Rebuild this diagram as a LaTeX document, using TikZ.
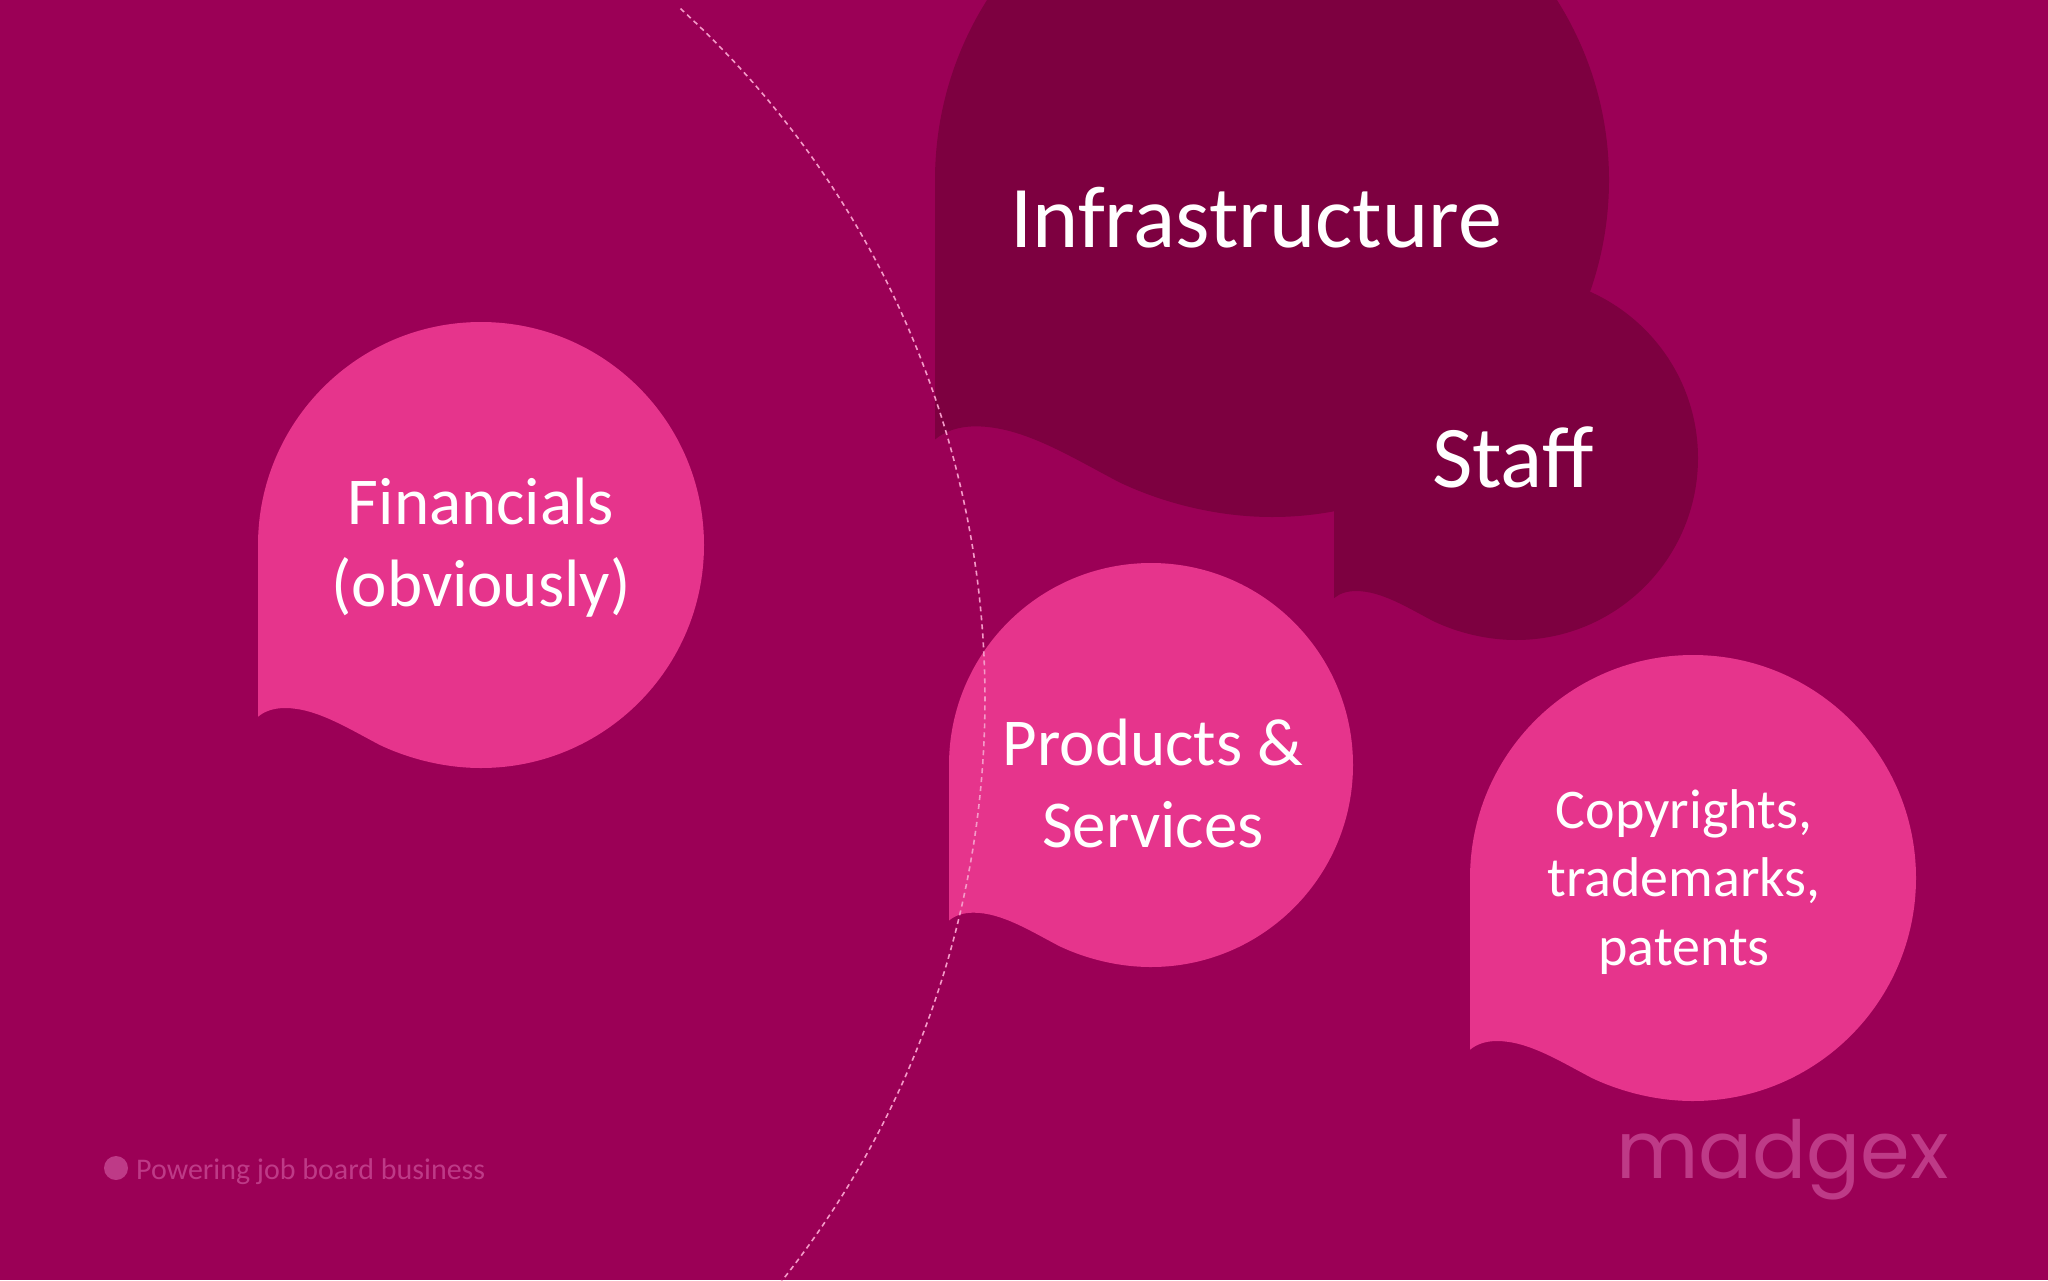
\documentclass[tikz,border=0pt]{standalone}
\usepackage{fontspec}
\setmainfont{Carlito}
\newfontfamily\logofont{Poppins}
\definecolor{bgplum}{HTML}{9B0056}
\definecolor{hotpink}{HTML}{E6348C}
\definecolor{darkplum}{HTML}{7D0040}
\definecolor{dashpink}{HTML}{F49AC8}
\definecolor{fadedpink}{HTML}{BE3A87}
\newcommand{\speechbubble}[4]{%
  \fill[#4,shift={(#1,#2)},x=#3pt,y=-#3pt]
    (-1,.77) -- (-1,0)
    .. controls (-1,-.5523) and (-.5523,-1) .. (0,-1)
    .. controls (.5523,-1) and (1,-.5523) .. (1,0)
    .. controls (1,.5523) and (.5523,1) .. (0,1)
    .. controls (-.16,1) and (-.32,.96) .. (-.453,.897)
    .. controls (-.6,.82) and (-.74,.731) .. (-.879,.731)
    .. controls (-.93,.731) and (-.97,.745) .. (-1,.77) -- cycle;}
\tikzset{
  bubbletext/.style={text=white,inner sep=0pt,align=center},
  bigtext/.style={text=white,inner sep=0pt,anchor=base,font=\fontsize{88}{88}\selectfont},
  midfont/.style={font=\fontsize{67}{82}\selectfont},
  smallfont/.style={font=\fontsize{56}{68.6}\selectfont},
  footer/.style={text=fadedpink,inner sep=0pt,anchor=base west}
}
\begin{document}
\begin{tikzpicture}[x=1pt,y=-1pt]
\useasboundingbox (0,0) rectangle (2048,1280);
\clip (0,0) rectangle (2048,1280);
\fill[bgplum] (0,0) rectangle (2048,1280);
\speechbubble{1516}{458}{182}{darkplum}
\speechbubble{1272}{180}{337}{darkplum}
\speechbubble{481}{545}{223}{hotpink}
\speechbubble{1151}{765}{202}{hotpink}
\speechbubble{1693}{878}{223}{hotpink}
\draw[dashpink,line width=1.6pt,dash pattern=on 5pt off 4pt]
  plot[domain=-47.6:39,samples=160,smooth] ({50+935*cos(\x)},{699+935*sin(\x)});
\node[bigtext] (infra) at (1256,247) {Infrastructure};
\node[bigtext] (staff) at (1513,487) {Staff};
\node[bubbletext,midfont] (fin) at (481,548) {Financials\\(obviously)};
\node[bubbletext,midfont] (prod) at (1153,783) {Products \&\\Services};
\node[bubbletext,smallfont] (copy) at (1684,882) {Copyrights,\\trademarks,\\patents};
\fill[fadedpink] (116,1168) circle (12pt);
\node[footer,font=\fontsize{30}{30}\selectfont] (power) at (136,1179) {Powering job board business};
\node[footer,font=\logofont\fontsize{80}{80}\selectfont] (logo) at (1616,1178) {madgex};
\end{tikzpicture}
\end{document}
